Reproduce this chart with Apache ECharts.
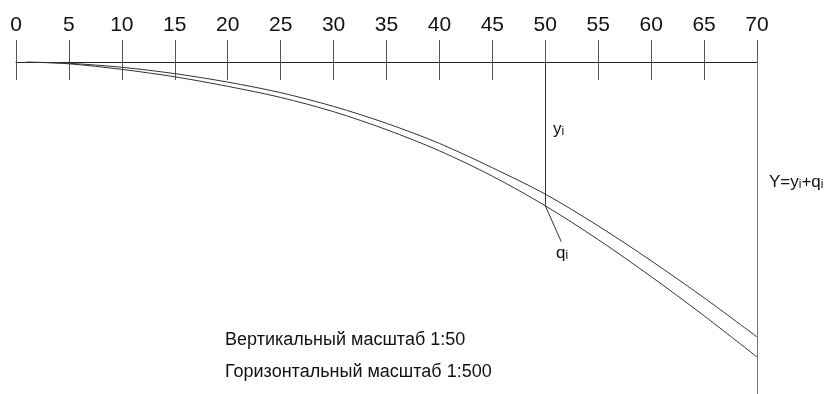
<!DOCTYPE html>
<html>
<head>
<meta charset="utf-8">
<script src="https://cdn.jsdelivr.net/npm/echarts@6/dist/echarts.min.js"></script>
<style>
  html, body { margin: 0; padding: 0; background: #fff; }
  #chart { width: 832px; height: 394px; }
</style>
</head>
<body>
<div id="chart"></div>
<script>
// расстояние по горизонтали, м
const stations = [1, 5, 10, 15, 20, 25, 30, 35, 40, 45, 50, 55, 60, 65, 70]
// yi — верхняя кривая, м
const yUpper = [0, 0.012, 0.05, 0.11, 0.19, 0.29, 0.42, 0.58, 0.77, 1.0, 1.25, 1.55, 1.88, 2.23, 2.60]
// Y = yi + qi — нижняя кривая, м
const yLower = [0, 0.017, 0.07, 0.14, 0.23, 0.335, 0.47, 0.64, 0.84, 1.08, 1.36, 1.68, 2.03, 2.40, 2.79]
const tickStep = 5
const xMax = 70
const yMax = 3.14
const markX = 50

const chartDom = document.getElementById('chart')
const chart = echarts.init(chartDom, null, { renderer: 'canvas' })

const font = "'Liberation Sans', Arial, sans-serif"
const lineColor = '#333'

const pair = (xs, ys) => xs.map((x, i) => [x, ys[i]])
const lowerAtMark = yLower[stations.indexOf(markX)]

const option = {
  animation: false,
  backgroundColor: '#fff',
  grid: { left: 16, right: 75, top: 62, bottom: 0 },
  xAxis: [
    {
      type: 'value',
      position: 'top',
      min: 0,
      max: xMax,
      interval: tickStep,
      axisLine: { show: true, lineStyle: { color: '#222', width: 1 } },
      axisTick: { show: true, length: 22, lineStyle: { color: '#555' } },
      axisLabel: {
        margin: 26,
        color: '#111',
        fontSize: 21,
        fontFamily: "'Liberation Sans Narrow', 'Liberation Sans', Arial, sans-serif"
      },
      splitLine: { show: false }
    },
    {
      type: 'value',
      position: 'top',
      min: 0,
      max: xMax,
      interval: tickStep,
      axisLine: { show: false },
      axisTick: { show: true, inside: true, length: 18, lineStyle: { color: '#555' } },
      axisLabel: { show: false },
      splitLine: { show: false }
    }
  ],
  yAxis: {
    type: 'value',
    inverse: true,
    min: 0,
    max: yMax,
    show: false
  },
  series: [
    {
      name: 'yi',
      type: 'line',
      data: pair(stations, yUpper),
      symbol: 'none',
      smooth: 0.3,
      silent: true,
      lineStyle: { color: lineColor, width: 1 }
    },
    {
      name: 'Y',
      type: 'line',
      data: pair(stations, yLower),
      symbol: 'none',
      smooth: 0.3,
      silent: true,
      lineStyle: { color: lineColor, width: 1 },
      markLine: {
        silent: true,
        symbol: 'none',
        label: { show: false },
        data: [
          [
            { coord: [markX, 0], lineStyle: { color: lineColor, width: 1, type: 'solid' } },
            { coord: [markX, lowerAtMark] }
          ],
          { xAxis: xMax, lineStyle: { color: '#777', width: 1, type: 'solid' } }
        ]
      }
    }
  ]
}

chart.setOption(option)

// подписи и выноска qi
const qStart = chart.convertToPixel({ seriesIndex: 1 }, [markX, lowerAtMark])
const sub = { fontSize: 12, fontFamily: font, verticalAlign: 'bottom', fill: '#111' }
const big = { fontSize: 17, fontFamily: font, verticalAlign: 'bottom', fill: '#111' }

chart.setOption({
  graphic: [
    {
      type: 'line',
      silent: true,
      shape: { x1: qStart[0], y1: qStart[1], x2: qStart[0] + 16, y2: qStart[1] + 36 },
      style: { stroke: lineColor, lineWidth: 1 }
    },
    {
      type: 'text', silent: true, x: 553, y: 129,
      style: { text: '{a|y}{s|i}', rich: { a: big, s: sub }, verticalAlign: 'middle' }
    },
    {
      type: 'text', silent: true, x: 556, y: 253,
      style: { text: '{a|q}{s|i}', rich: { a: big, s: sub }, verticalAlign: 'middle' }
    },
    {
      type: 'text', silent: true, x: 769, y: 182,
      style: { text: '{a|Y=y}{s|i}{a|+q}{s|i}', rich: { a: big, s: sub }, verticalAlign: 'middle' }
    },
    {
      type: 'text', silent: true, x: 225, y: 340,
      style: { text: 'Вертикальный масштаб 1:50', font: '18px ' + font, fill: '#111', verticalAlign: 'middle' }
    },
    {
      type: 'text', silent: true, x: 225, y: 372,
      style: { text: 'Горизонтальный масштаб 1:500', font: '18px ' + font, fill: '#111', verticalAlign: 'middle' }
    }
  ]
})

window.addEventListener('resize', () => chart.resize())
</script>
</body>
</html>
